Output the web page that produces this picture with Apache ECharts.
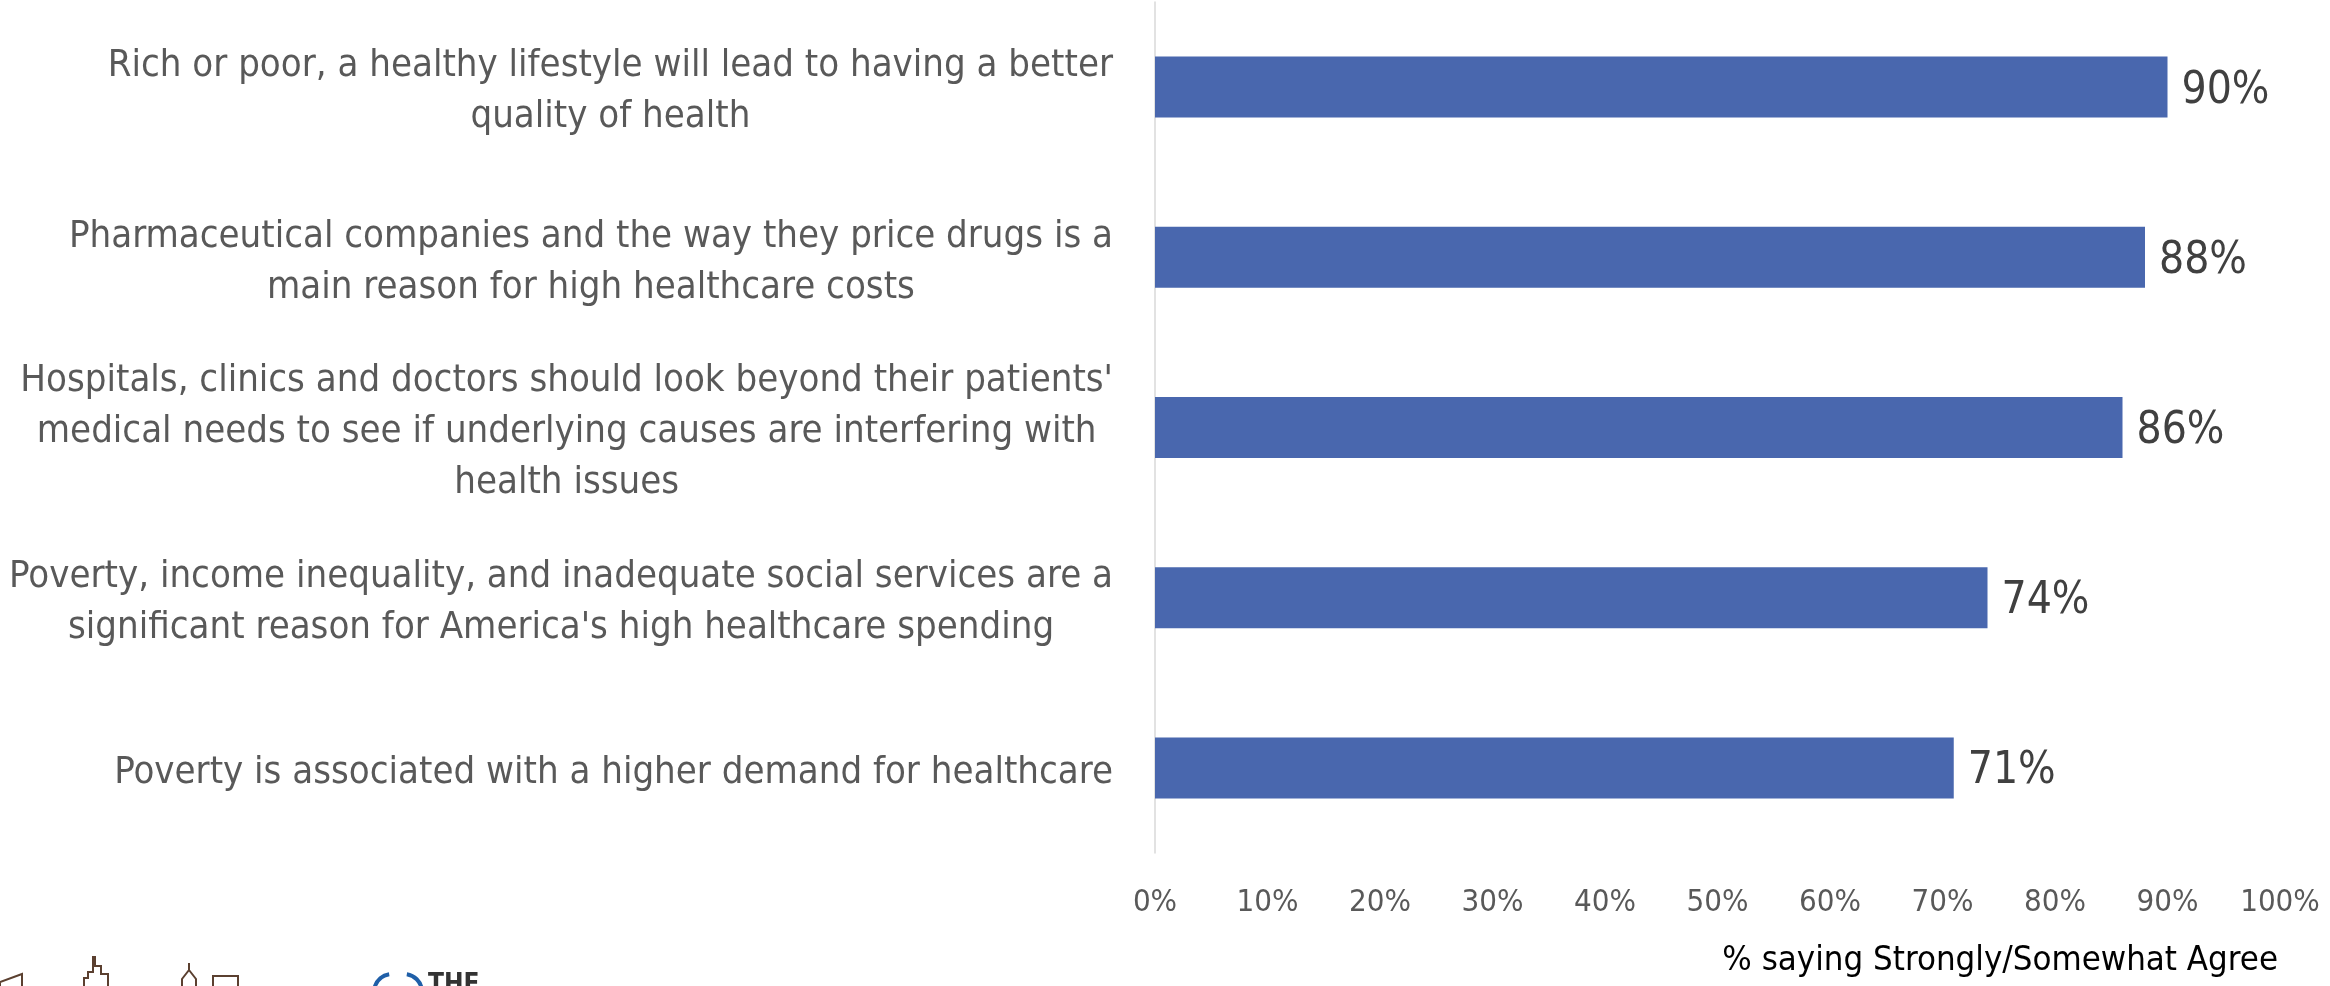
<!DOCTYPE html>
<html>
<head>
<meta charset="utf-8">
<script src="https://cdn.jsdelivr.net/npm/echarts@6/dist/echarts.min.js"></script>
<style>
  html, body { margin: 0; padding: 0; background: #fff; }
  #chart-container { width: 2330px; height: 986px; }
</style>
</head>
<body>
<div id="chart-container"></div>
<script>
// Statements, top to bottom (line breaks as in the original)
const statements = [
  'Rich or poor, a healthy lifestyle will lead to having a better\nquality of health',
  'Pharmaceutical companies and the way they price drugs is a\nmain reason for high healthcare costs',
  "Hospitals, clinics and doctors should look beyond their patients'\nmedical needs to see if underlying causes are interfering with\nhealth issues",
  "Poverty, income inequality, and inadequate social services are a\nsignificant reason for America's high healthcare spending",
  'Poverty is associated with a higher demand for healthcare'
];
// Share saying strongly/somewhat agree
const agreeShare = [0.90, 0.88, 0.86, 0.74, 0.71];
const axisTitle = '% saying Strongly/Somewhat Agree';

const FONT = "'Liberation Sans Narrow', 'DejaVu Sans Condensed', sans-serif";
const pct = (v) => Math.round(v * 100) + '%';

const myChart = echarts.init(document.getElementById('chart-container'));
myChart.setOption({
  animation: false,
  textStyle: { fontFamily: FONT },
  grid: {
    left: 1155,
    right: 50,
    top: 2,
    bottom: 133,
    outerBoundsMode: 'none'
  },
  xAxis: {
    type: 'value',
    min: 0,
    max: 1,
    interval: 0.1,
    axisLine: { show: false },
    axisTick: { show: false },
    splitLine: { show: false },
    axisLabel: {
      formatter: pct,
      fontSize: 31,
      color: '#595959',
      margin: 34,
      fontFamily: FONT
    }
  },
  yAxis: {
    type: 'category',
    inverse: true,
    data: statements,
    axisLine: { show: true, lineStyle: { color: '#d9d9d9', width: 1.5 } },
    axisTick: { show: false },
    axisLabel: {
      margin: 42,
      padding: [10, 0, 0, 0],
      formatter: (v) => '{c|' + v + '}',
      rich: {
        c: {
          align: 'center',
          fontSize: 38,
          lineHeight: 51,
          color: '#595959',
          fontFamily: FONT
        }
      }
    }
  },
  series: [
    {
      name: 'Agree',
      type: 'bar',
      data: agreeShare,
      barWidth: 61,
      itemStyle: { color: '#4967ae' },
      label: {
        show: true,
        position: 'right',
        distance: 14,
        offset: [0, 4],
        formatter: (p) => pct(p.value),
        fontSize: 44,
        color: '#404040',
        fontFamily: FONT
      }
    }
  ],
  graphic: [
    {
      type: 'text',
      right: 52,
      top: 944,
      style: { text: axisTitle, fontSize: 34.5, fill: '#000', fontFamily: FONT }
    },
    // partial logo strip at the bottom-left edge
    {
      type: 'polyline',
      shape: { points: [[0, 986], [0, 982], [22, 974], [22, 986]] },
      style: { stroke: '#5b4030', lineWidth: 2, fill: null }
    },
    {
      type: 'polyline',
      shape: { points: [[84, 986], [84, 978], [88, 978], [88, 972], [93, 972], [93, 957], [95, 957], [95, 966], [101, 966], [101, 974], [108, 974], [108, 986]] },
      style: { stroke: '#5b4030', lineWidth: 2, fill: null }
    },
    {
      type: 'polyline',
      shape: { points: [[182, 986], [182, 979], [189, 970], [189, 963], [189, 970], [196, 979], [196, 986]] },
      style: { stroke: '#5b4030', lineWidth: 2, fill: null }
    },
    {
      type: 'polyline',
      shape: { points: [[213, 986], [213, 976], [238, 976], [238, 986]] },
      style: { stroke: '#5b4030', lineWidth: 2, fill: null }
    },
    {
      type: 'arc',
      shape: { cx: 392, cy: 992, r: 18, startAngle: Math.PI * 1.1, endAngle: Math.PI * 1.45 },
      style: { stroke: '#1f5fa8', lineWidth: 4, fill: null }
    },
    {
      type: 'arc',
      shape: { cx: 404, cy: 992, r: 18, startAngle: Math.PI * 1.55, endAngle: Math.PI * 1.95 },
      style: { stroke: '#1f5fa8', lineWidth: 4, fill: null }
    },
    {
      type: 'text',
      left: 428,
      top: 972,
      style: { text: 'THE', fontSize: 26, fontWeight: 'bold', fill: '#333', fontFamily: FONT }
    }
  ]
});
</script>
</body>
</html>
